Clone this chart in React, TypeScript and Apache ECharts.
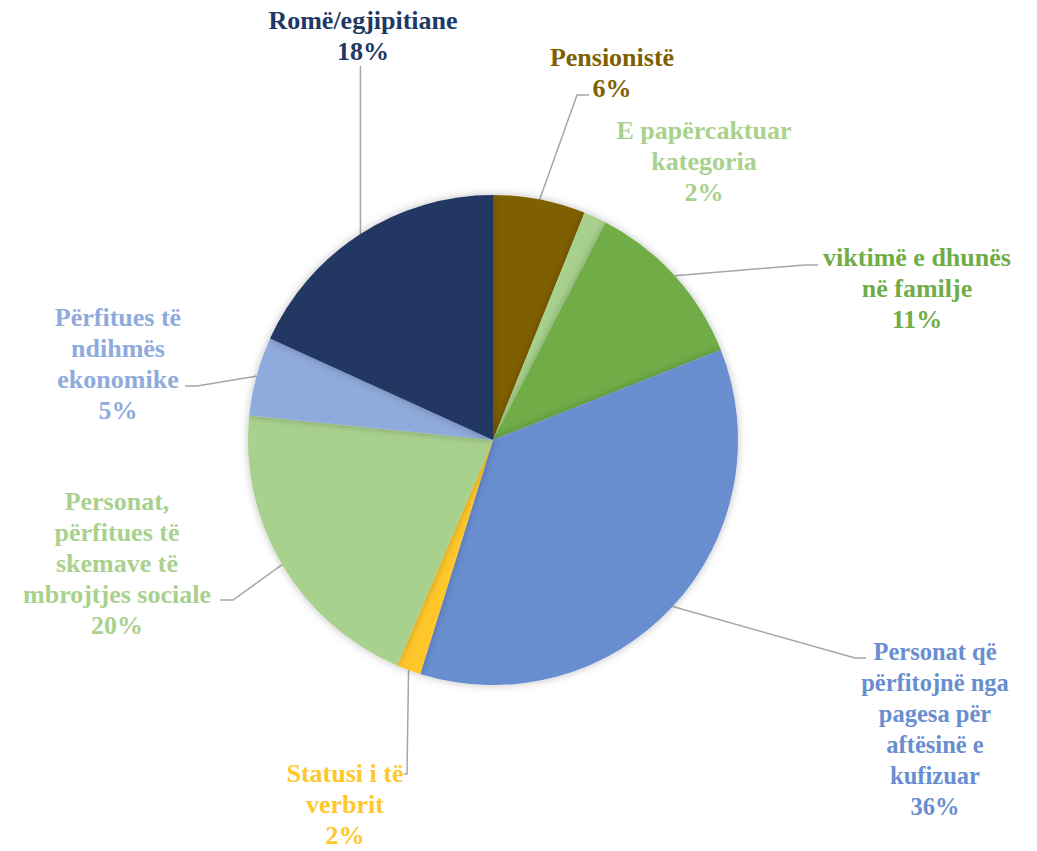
import React, { useEffect, useRef } from "react";
import * as echarts from "echarts";

const categories = [
  "Pensionistë",
  "E papërcaktuar\nkategoria",
  "viktimë e dhunës\nnë familje",
  "Personat që\npërfitojnë nga\npagesa për\naftësinë e\nkufizuar",
  "Statusi i të\nverbrit",
  "Personat,\npërfitues të\nskemave të\nmbrojtjes sociale",
  "Përfitues të\nndihmës\nekonomike",
  "Romë/egjipitiane",
];
const values = [6.1, 1.5, 11.4, 35.8, 1.6, 20.2, 5.2, 18.2];
const colors = ["#7F6000", "#A9D18E", "#70AD47", "#698ED0", "#FFC729", "#A9D18E", "#8FAADC", "#203864"];

// label layout (center x, top y), font size, and label-line elbows
const labelAnchors: [number, number][] = [
  [612, 42], [704, 115], [917, 242], [935, 636], [345, 758], [117, 486], [118, 302], [363, 5],
];
const labelSizes = [26, 26, 26, 24.5, 26, 26, 26, 26];
const lineElbows: ([number, number][] | null)[] = [
  [[577, 95], [589, 95]],
  null,
  [[805, 265], [818, 265]],
  [[855, 658], [866, 658]],
  [[407, 774], [404, 774]],
  [[233, 600], [220, 600]],
  [[197, 386], [185, 386]],
  null,
];

const CX = 493;
const CY = 440;
const R = 245;
const FONT = "Liberation Serif";

export default function App() {
  const ref = useRef<HTMLDivElement>(null);
  useEffect(() => {
    document.body.style.margin = "0";
    if (!ref.current) return;
    const chart = echarts.init(ref.current, null, { renderer: "svg" });
    const total = values.reduce((a, b) => a + b, 0);
    const edge = (i: number): [number, number] => {
      let cum = 0;
      for (let k = 0; k < i; k++) cum += values[k];
      const mid = ((cum + values[i] / 2) / total) * Math.PI * 2;
      return [CX + R * Math.sin(mid), CY - R * Math.cos(mid)];
    };
    chart.setOption({
      animation: false,
      backgroundColor: "#ffffff",
      textStyle: { fontFamily: FONT },
      series: [
        {
          type: "pie",
          center: [CX, CY],
          radius: [0, R],
          startAngle: 90,
          clockwise: true,
          avoidLabelOverlap: false,
          itemStyle: {
            shadowBlur: 8,
            shadowColor: "rgba(0,0,0,0.25)",
          },
          label: {
            show: true,
            position: "outside",
            fontFamily: FONT,
            fontWeight: "bold",
            fontSize: 26,
            lineHeight: 31,
            align: "center",
            formatter: (p: any) => `${p.name}\n${Math.round(p.percent)}%`,
          },
          labelLine: {
            show: true,
            lineStyle: { color: "#A6A6A6", width: 1.5 },
          },
          labelLayout: (params: any) => {
            const i = params.dataIndex;
            const [x, y] = labelAnchors[i];
            const e = edge(i);
            let pts: [number, number][];
            if (i === 7) pts = [e, [e[0], 66]];
            else if (lineElbows[i]) pts = [e, ...(lineElbows[i] as [number, number][])];
            else pts = [e, e];
            return {
              x,
              y,
              align: "center",
              verticalAlign: "top",
              labelLinePoints: pts,
            };
          },
          data: categories.map((name, i) => ({
            name,
            value: values[i],
            itemStyle: { color: colors[i] },
            label: { color: colors[i], fontSize: labelSizes[i], lineHeight: 31 },
            labelLine: { show: lineElbows[i] !== null || i === 7 },
          })),
        },
      ],
    });
    return () => chart.dispose();
  }, []);
  return <div ref={ref} style={{ width: 1037, height: 851 }} />;
}
